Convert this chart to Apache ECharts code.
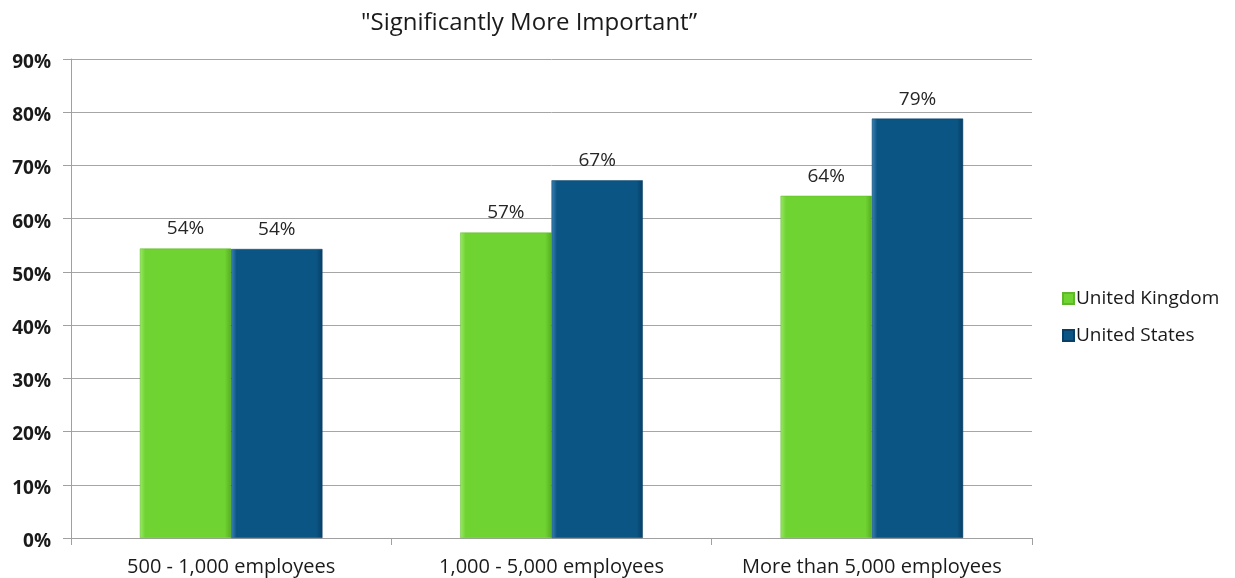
<!DOCTYPE html>
<html>
<head>
<meta charset="utf-8">
<script src="https://cdn.jsdelivr.net/npm/echarts@6/dist/echarts.min.js"></script>
<style>
html,body{margin:0;padding:0;background:#fff;}
#chart{width:1235px;height:578px;}
</style>
</head>
<body>
<div id="chart"></div>
<script>
const titleText = '"Significantly More Important\u201d';
const categories = ['500 - 1,000 employees', '1,000 - 5,000 employees', 'More than 5,000 employees'];
const seriesNames = ['United Kingdom', 'United States'];
const ukValues = [54.4, 57.4, 64.3];
const usValues = [54.3, 67.2, 78.8];
const yTicks = [0, 10, 20, 30, 40, 50, 60, 70, 80, 90];

const FONT = '"Open Sans", Lato, sans-serif';

function bevel(light, base, dark) {
  return {
    type: 'linear', x: 0, y: 0, x2: 1, y2: 0,
    colorStops: [
      {offset: 0, color: light},
      {offset: 0.06, color: base},
      {offset: 0.93, color: base},
      {offset: 1, color: dark}
    ]
  };
}

const chart = echarts.init(document.getElementById('chart'), null, {renderer: 'canvas'});
chart.setOption({
  animation: false,
  backgroundColor: '#ffffff',
  title: {
    text: titleText,
    left: 524, top: 6,
    textAlign: 'center',
    textStyle: {fontFamily: FONT, fontSize: 24, fontWeight: 'normal', color: '#1a1a1a'}
  },
  legend: {
    orient: 'vertical',
    left: 1057, top: 284,
    itemWidth: 11, itemHeight: 11,
    itemGap: 18,
    icon: 'rect',
    textStyle: {fontFamily: FONT, fontSize: 19, color: '#1a1a1a', padding: [0,0,0,-3]},
    data: seriesNames
  },
  grid: {left: 71, right: 203, top: 59, bottom: 40, containLabel: false},
  xAxis: {
    type: 'category',
    data: categories,
    axisLine: {show: true, lineStyle: {color: '#a0a0a0', width: 1}},
    axisTick: {show: true, length: 7, lineStyle: {color: '#a0a0a0'}},
    axisLabel: {interval: 0, hideOverlap: false, fontFamily: FONT, fontSize: 20, color: '#1a1a1a', margin: 19}
  },
  yAxis: {
    type: 'value',
    min: yTicks[0], max: yTicks[yTicks.length - 1], interval: 10,
    axisLine: {show: true, lineStyle: {color: '#a0a0a0', width: 1}},
    axisTick: {show: true, length: 8, lineStyle: {color: '#a0a0a0'}},
    axisLabel: {
      fontFamily: FONT, fontSize: 19, fontWeight: 'bold', color: '#1a1a1a', margin: 20,
      verticalAlign: 'top', lineHeight: 7,
      formatter: v => v + '%'
    },
    splitLine: {show: true, lineStyle: {color: '#a6a6a6', width: 1}}
  },
  series: [
    {
      name: seriesNames[0], type: 'bar', data: ukValues,
      barGap: '0%', barCategoryGap: '43%',
      itemStyle: {color: bevel('#9ae865', '#6fd332', '#56ae22'), borderColor: '#5fb82a', borderWidth: 0.5},
      label: {show: true, position: 'top', distance: 10, fontFamily: FONT, fontSize: 19, color: '#262626',
        formatter: p => Math.round(p.value) + '%'}
    },
    {
      name: seriesNames[1], type: 'bar', data: usValues,
      barGap: '0%', barCategoryGap: '43%',
      itemStyle: {color: bevel('#3a82b3', '#0b5585', '#073f66'), borderColor: '#073f66', borderWidth: 0.5},
      label: {show: true, position: 'top', distance: 10, fontFamily: FONT, fontSize: 19, color: '#262626',
        formatter: p => Math.round(p.value) + '%'}
    }
  ]
});
</script>
</body>
</html>
